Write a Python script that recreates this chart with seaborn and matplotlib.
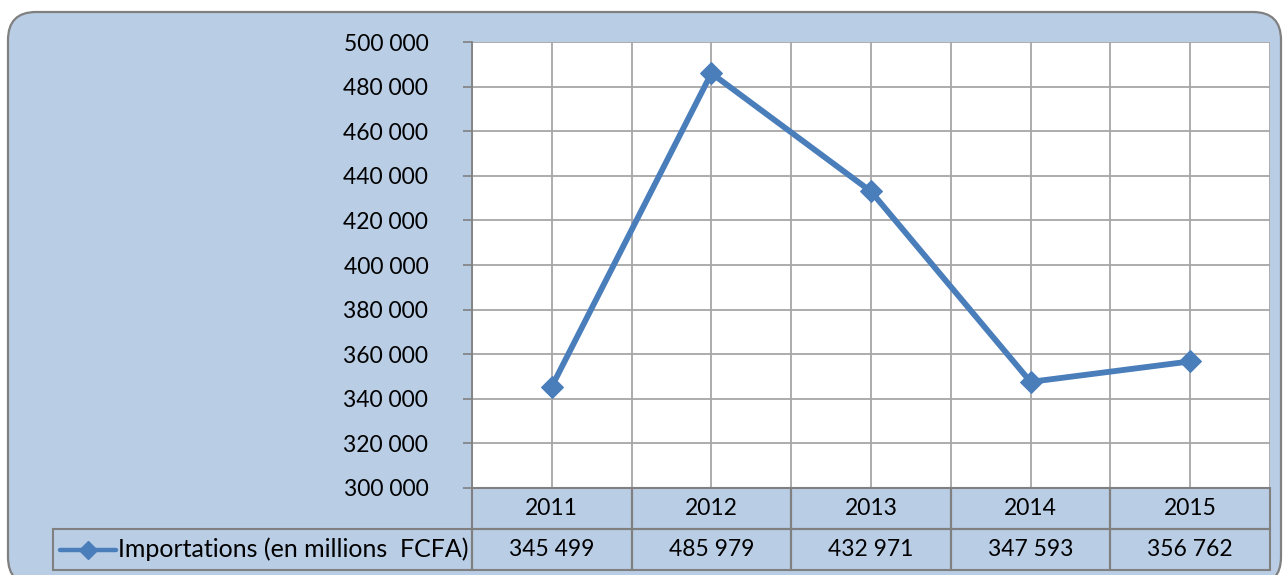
import numpy as np
import pandas as pd
import matplotlib
matplotlib.use("Agg")
import matplotlib.pyplot as plt
import seaborn as sns
from matplotlib.patches import FancyBboxPatch, Rectangle
from matplotlib.lines import Line2D
from matplotlib.ticker import FuncFormatter
from matplotlib.transforms import IdentityTransform

# Data
years = [2011, 2012, 2013, 2014, 2015]
imports = [345499, 485979, 432971, 347593, 356762]
series_label = "Importations (en millions  FCFA)"

df = pd.DataFrame({"year": years, "value": imports})

sns.set_theme(style="white")
plt.rcParams["font.family"] = ["Lato", "DejaVu Sans"]

W, H = 1285, 575
fig = plt.figure(figsize=(W / 100, H / 100), dpi=100)
fig.patch.set_facecolor("white")

bg_col = "#B9CDE5"
edge_col = "#808080"
line_col = "#4A7EBB"
fs = 16.5


def fx(px):
    return px / W


def fy(py):
    return 1 - py / H


# rounded background box (pixel coordinates, origin bottom-left)
bg = FancyBboxPatch((8, -10), 1281 - 8, H - 12 + 10,
                    boxstyle="round,pad=0,rounding_size=28",
                    transform=IdentityTransform(), facecolor=bg_col,
                    edgecolor=edge_col, linewidth=1.6, zorder=-5)
fig.patches.append(bg)

# plot area
x0, x1, y0, y1 = 472, 1270, 42, 488
ax = fig.add_axes([fx(x0), fy(y1), fx(x1) - fx(x0), fy(y0) - fy(y1)])
ax.set_facecolor("white")

df["pos"] = np.arange(len(years))
sns.lineplot(data=df, x="pos", y="value", ax=ax, color=line_col, linewidth=4.2,
             marker="D", markersize=11, markeredgecolor=line_col, legend=False)

ax.set_xlim(-0.5, len(years) - 0.5)
ax.set_ylim(300000, 500000)
ax.set_yticks(np.arange(300000, 500001, 20000))
ax.yaxis.set_major_formatter(FuncFormatter(lambda v, p: f"{int(v):,}".replace(",", " ")))
ax.set_xticks(np.arange(-0.5, len(years), 0.5))
ax.set_xticklabels([])
ax.grid(True, color="#A6A6A6", linewidth=1.3)
ax.set_axisbelow(True)
ax.tick_params(axis="y", length=6.5, color=edge_col, labelsize=fs, pad=25, left=True,
               labelcolor="black", width=1.2)
ax.tick_params(axis="x", length=0)
for s in ["top", "right", "bottom"]:
    ax.spines[s].set_visible(False)
ax.spines["left"].set_color(edge_col)
ax.spines["left"].set_linewidth(1.3)
ax.set_xlabel("")
ax.set_ylabel("")

# data table below the plot
col_w = (x1 - x0) / len(years)
row1 = (488, 529)
row2 = (529, 570)
legend_x = 53


def cell(xa, xb, ya, yb):
    r = Rectangle((fx(xa), fy(yb)), fx(xb) - fx(xa), fy(ya) - fy(yb),
                  transform=fig.transFigure, facecolor="none",
                  edgecolor=edge_col, linewidth=1.5)
    fig.patches.append(r)


for i, (yr, val) in enumerate(zip(years, imports)):
    xa = x0 + i * col_w
    xb = xa + col_w
    cell(xa, xb, *row1)
    cell(xa, xb, *row2)
    fig.text(fx((xa + xb) / 2), fy(sum(row1) / 2), str(yr), ha="center",
             va="center", fontsize=fs, color="black")
    fig.text(fx((xa + xb) / 2), fy(sum(row2) / 2), f"{val:,}".replace(",", " "),
             ha="center", va="center", fontsize=fs, color="black")

cell(legend_x, x0, *row2)
ym = fy(sum(row2) / 2)
fig.lines.append(Line2D([fx(60), fx(116)], [ym, ym], transform=fig.transFigure,
                        color=line_col, linewidth=3.2))
fig.lines.append(Line2D([fx(88)], [ym], transform=fig.transFigure, color=line_col,
                        marker="D", markersize=9, linestyle="none"))
fig.text(fx(118), ym, series_label, ha="left", va="center", fontsize=fs + 1.5,
         color="black")

fig.savefig("out.png", dpi=100)
